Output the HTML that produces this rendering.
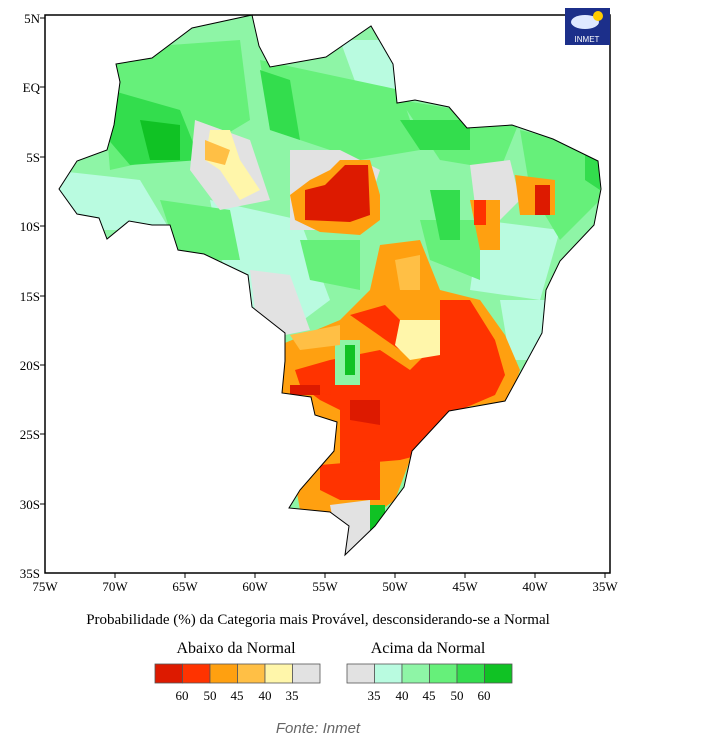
<!DOCTYPE html>
<html><head><meta charset="utf-8"><style>
body{margin:0;background:#fff;width:716px;height:746px;overflow:hidden}
svg text{font-family:"Liberation Serif",serif}
</style></head><body>
<svg width="716" height="746" viewBox="0 0 716 746" xmlns="http://www.w3.org/2000/svg">
<defs>
<clipPath id="br"><polygon id="bp" points="116,64 152,58 192,28 252,15 259,46 270,67 326,57 371,26 393,64 397,103 415,100 449,107 467,128 512,125 553,139 598,161 601,189 594,225 560,261 546,290 542,333 523,368 505,401 449,411 412,451 404,487 375,526 345,555 349,526 330,512 289,508 300,490 334,451 337,422 315,415 311,397 282,393 285,361 285,333 252,307 248,275 204,254 178,250 170,225 152,225 129,221 107,239 99,218 77,214 59,189 77,161 107,150 114,125 120,82"/></clipPath>
</defs>
<g clip-path="url(#br)">
<rect x="40" y="10" width="580" height="560" fill="#8ef5a6"/>
<polygon points="50,170 140,180 170,230 60,230" fill="#b9fbe0"/>
<polygon points="210,200 300,220 330,300 290,330 230,300" fill="#b9fbe0"/>
<polygon points="480,220 560,230 540,300 470,290" fill="#b9fbe0"/>
<polygon points="500,300 545,300 540,360 510,360" fill="#b9fbe0"/>
<polygon points="340,40 400,40 400,90 360,95" fill="#b9fbe0"/>
<polygon points="100,50 240,40 250,120 200,150 110,170" fill="#66f07a"/>
<polygon points="260,60 400,90 420,150 360,160 300,140 270,130" fill="#66f07a"/>
<polygon points="400,100 520,120 500,170 440,160" fill="#66f07a"/>
<polygon points="160,200 230,210 240,260 180,260" fill="#66f07a"/>
<polygon points="520,130 600,150 600,200 560,240 530,190" fill="#66f07a"/>
<polygon points="300,240 360,240 360,290 310,280" fill="#66f07a"/>
<polygon points="420,220 480,220 480,280 430,260" fill="#66f07a"/>
<polygon points="110,90 180,110 200,160 130,165 100,130" fill="#33dd4d"/>
<polygon points="140,120 180,125 180,160 150,160" fill="#10c224"/>
<polygon points="260,70 290,80 300,140 270,130" fill="#33dd4d"/>
<polygon points="400,120 470,120 470,150 420,150" fill="#33dd4d"/>
<polygon points="430,190 460,190 460,240 440,240" fill="#33dd4d"/>
<polygon points="585,150 602,160 600,190 585,180" fill="#33dd4d"/>
<polygon points="195,120 250,140 270,200 220,210 190,170" fill="#e2e2e2"/>
<polygon points="210,130 230,130 240,160 260,190 240,200 220,170 205,160" fill="#fff6aa"/>
<polygon points="205,140 230,150 225,165 205,160" fill="#ffbf45"/>
<polygon points="250,270 290,275 310,330 285,335 255,310" fill="#e2e2e2"/>
<polygon points="290,150 340,150 380,170 360,230 290,230" fill="#e2e2e2"/>
<polygon points="470,165 510,160 520,200 495,225 475,205" fill="#e2e2e2"/>
<polygon points="290,195 310,180 330,170 340,160 370,160 380,195 380,220 360,235 320,232 295,220" fill="#ffa010"/>
<polygon points="305,190 325,185 345,165 368,165 370,215 350,222 305,220" fill="#dd1a00"/>
<polygon points="470,200 500,200 500,250 480,250" fill="#ffa010"/>
<polygon points="474,200 486,200 486,225 474,225" fill="#ff3300"/>
<polygon points="515,175 555,180 555,215 520,215" fill="#ffa010"/>
<polygon points="535,185 550,185 550,215 535,215" fill="#dd1a00"/>
<polygon points="380,245 420,240 440,290 480,300 505,335 520,370 510,400 450,410 410,460 395,500 360,525 300,510 280,395 280,345 340,320 370,290" fill="#ffa010"/>
<polygon points="395,260 420,255 420,290 400,290" fill="#ffbf45"/>
<polygon points="350,315 385,305 410,330 400,350" fill="#ff3300"/>
<polygon points="440,300 470,300 495,340 505,375 495,395 460,410 420,455 400,460 340,465 340,410 320,400 300,385 295,370 330,360 380,350 410,370 440,340" fill="#ff3300"/>
<polygon points="300,370 335,370 330,395 300,390" fill="#ff3300"/>
<polygon points="290,385 320,385 320,395 290,395" fill="#dd1a00"/>
<polygon points="350,400 380,400 380,425 350,420" fill="#dd1a00"/>
<polygon points="320,465 380,460 380,500 340,500 320,490" fill="#ff3300"/>
<polygon points="400,320 440,320 440,355 410,360 395,345" fill="#fff6aa"/>
<polygon points="335,340 360,340 360,385 335,385" fill="#8ef5a6"/>
<polygon points="345,345 355,345 355,375 345,375" fill="#10c224"/>
<polygon points="330,505 370,500 370,550 340,555" fill="#e2e2e2"/>
<polygon points="370,505 385,505 385,530 370,530" fill="#10c224"/>
<polygon points="290,335 340,325 340,345 300,350" fill="#ffbf45"/>
</g>
<use href="#bp" fill="none" stroke="#000" stroke-width="1"/>
<rect x="45" y="15" width="565" height="558" fill="none" stroke="#000" stroke-width="1.5"/>
<g stroke="#000" stroke-width="1">
<line x1="40" y1="18" x2="45" y2="18"/><line x1="40" y1="87" x2="45" y2="87"/><line x1="40" y1="157" x2="45" y2="157"/><line x1="40" y1="226" x2="45" y2="226"/><line x1="40" y1="296" x2="45" y2="296"/><line x1="40" y1="365" x2="45" y2="365"/><line x1="40" y1="434" x2="45" y2="434"/><line x1="40" y1="504" x2="45" y2="504"/>
<line x1="115" y1="573" x2="115" y2="578"/><line x1="185" y1="573" x2="185" y2="578"/><line x1="255" y1="573" x2="255" y2="578"/><line x1="325" y1="573" x2="325" y2="578"/><line x1="395" y1="573" x2="395" y2="578"/><line x1="465" y1="573" x2="465" y2="578"/><line x1="535" y1="573" x2="535" y2="578"/><line x1="605" y1="573" x2="605" y2="578"/>
</g>
<g font-size="13" text-anchor="end">
<text x="40" y="23">5N</text><text x="40" y="92">EQ</text><text x="40" y="162">5S</text><text x="40" y="231">10S</text><text x="40" y="301">15S</text><text x="40" y="370">20S</text><text x="40" y="439">25S</text><text x="40" y="509">30S</text><text x="40" y="578">35S</text>
</g>
<g font-size="13" text-anchor="middle">
<text x="45" y="591">75W</text><text x="115" y="591">70W</text><text x="185" y="591">65W</text><text x="255" y="591">60W</text><text x="325" y="591">55W</text><text x="395" y="591">50W</text><text x="465" y="591">45W</text><text x="535" y="591">40W</text><text x="605" y="591">35W</text>
</g>
<text x="318" y="624" font-size="15" text-anchor="middle">Probabilidade (%) da Categoria mais Provável, desconsiderando-se a Normal</text>
<text x="236" y="653" font-size="16" text-anchor="middle">Abaixo da Normal</text>
<text x="428" y="653" font-size="16" text-anchor="middle">Acima da Normal</text>
<g stroke="#555" stroke-width="0.8">
<rect x="155" y="664" width="27.5" height="19" fill="#dd1a00"/><rect x="182.5" y="664" width="27.5" height="19" fill="#ff3300"/><rect x="210" y="664" width="27.5" height="19" fill="#ffa010"/><rect x="237.5" y="664" width="27.5" height="19" fill="#ffbf45"/><rect x="265" y="664" width="27.5" height="19" fill="#fff6aa"/><rect x="292.5" y="664" width="27.5" height="19" fill="#e2e2e2"/>
<rect x="347" y="664" width="27.5" height="19" fill="#e2e2e2"/><rect x="374.5" y="664" width="27.5" height="19" fill="#b9fbe0"/><rect x="402" y="664" width="27.5" height="19" fill="#8ef5a6"/><rect x="429.5" y="664" width="27.5" height="19" fill="#66f07a"/><rect x="457" y="664" width="27.5" height="19" fill="#33dd4d"/><rect x="484.5" y="664" width="27.5" height="19" fill="#10c224"/>
</g>
<g font-size="13" text-anchor="middle">
<text x="182" y="700">60</text><text x="210" y="700">50</text><text x="237" y="700">45</text><text x="265" y="700">40</text><text x="292" y="700">35</text>
<text x="374" y="700">35</text><text x="402" y="700">40</text><text x="429" y="700">45</text><text x="457" y="700">50</text><text x="484" y="700">60</text>
</g>
<text x="318" y="733" font-size="15" font-style="italic" fill="#666" text-anchor="middle" style="font-family:'Liberation Sans',sans-serif">Fonte: Inmet</text>
<rect x="565" y="8" width="45" height="37" fill="#1c2f8a"/>
<ellipse cx="585" cy="22" rx="14" ry="7" fill="#dfe8ff"/>
<circle cx="598" cy="16" r="5" fill="#ffcc00"/>
<text x="587" y="42" font-size="8" fill="#fff" text-anchor="middle" style="font-family:'Liberation Sans',sans-serif">INMET</text>
</svg>
</body></html>
